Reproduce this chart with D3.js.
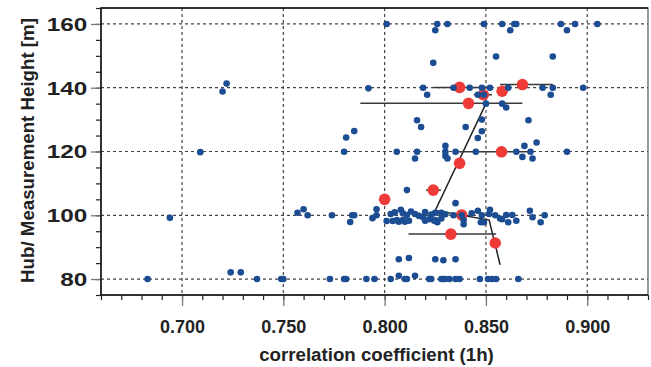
<!DOCTYPE html>
<html>
<head>
<meta charset="utf-8">
<script src="https://cdn.jsdelivr.net/npm/d3@7"></script>
<style>
  body { margin: 0; background: #fff; }
  svg { display: block; font-family: "Liberation Sans", Arial, sans-serif; }
</style>
</head>
<body>
<div class="chart"></div>
<script>
// blue dots: correlation coefficient and hub height
var blueCorr = [
  // ~80 m
  0.683, 0.737, 0.749, 0.750, 0.773, 0.780, 0.781, 0.791, 0.795, 0.803, 0.810, 0.811,
  0.822, 0.823, 0.828, 0.829, 0.830, 0.832, 0.835, 0.837, 0.847, 0.851, 0.853, 0.855, 0.866,
  0.807, 0.815, 0.724, 0.729,
  0.807, 0.812, 0.825, 0.829, 0.835,
  // ~100 m
  0.694, 0.757, 0.760, 0.762, 0.774, 0.783, 0.784, 0.785, 0.794, 0.796, 0.796, 0.801,
  0.803, 0.805, 0.806, 0.807, 0.809, 0.808, 0.809, 0.811, 0.815, 0.819, 0.820, 0.820,
  0.822, 0.8245, 0.825, 0.828, 0.825, 0.828, 0.834, 0.838, 0.839, 0.839, 0.843, 0.846,
  0.8475, 0.849, 0.848, 0.852, 0.8516, 0.8546, 0.857, 0.858, 0.861, 0.860, 0.863, 0.865,
  0.8717, 0.873, 0.877, 0.879, 0.804, 0.810, 0.812, 0.817, 0.823, 0.830, 0.826, 0.813,
  0.835, 0.811,
  // ~120 m
  0.709, 0.781, 0.785, 0.780, 0.806, 0.816, 0.818, 0.816, 0.815, 0.830, 0.830, 0.830,
  0.831, 0.835, 0.840, 0.845, 0.846, 0.848, 0.848, 0.865, 0.869, 0.868, 0.871, 0.872,
  0.873, 0.875, 0.890,
  // ~135-140 m
  0.850, 0.858, 0.860,
  0.720, 0.722, 0.792, 0.819, 0.834, 0.842, 0.848, 0.852, 0.861, 0.878, 0.883, 0.898,
  0.821, 0.846, 0.849, 0.882,
  // ~150-160 m
  0.824, 0.855, 0.883,
  0.825, 0.862, 0.890,
  0.801, 0.826, 0.831, 0.849, 0.858, 0.864, 0.865, 0.887, 0.894, 0.905
];
var blueHeight = [
  80, 80, 80, 80, 80, 80, 80, 80, 80, 80, 80, 80,
  80, 80, 80, 80, 80, 80, 80, 80, 80, 80, 80, 80, 80,
  81, 81, 82.1, 82.1,
  86.2, 86.6, 86.2, 85.9, 86.2,
  99.2, 100.8, 101.9, 100, 100, 97.9, 100, 100, 99.1, 101.9, 100, 98.2,
  100.4, 100.9, 98.5, 98, 98.5, 101.7, 100.6, 100.1, 100.4, 99.4, 101, 98.3,
  98.75, 98.3, 98.5, 99, 100.8, 100.8, 100, 100, 98.5, 97.2, 100.6, 101.4,
  97.8, 97.8, 100, 101.7, 100.4, 100, 99, 98.75, 97.8, 100.1, 100.1, 98.3,
  101.4, 99.4, 97.8, 100, 98.2, 98.0, 98.3, 99.8, 100.2, 100.3, 97.8, 101.2,
  103.8, 107.9,
  119.8, 124.4, 126.4, 119.9, 119.9, 129.8, 127.7, 119.9, 117.8, 121.75, 119.9, 118.6,
  117.8, 119.9, 127.7, 119.9, 124.25, 126.35, 130, 119.9, 121.75, 118.3, 129.8, 119.9,
  117.8, 122.8, 119.9,
  135, 135, 133.8,
  138.8, 141.3, 139.8, 140, 140, 140, 140, 140, 140, 140, 140, 140,
  137.8, 137.8, 137.8, 137.8,
  147.8, 149.8, 149.8,
  158, 158, 158,
  160, 160, 160, 160, 160, 160, 160, 160, 160, 160
];

// red dots with their horizontal bars
var redCorr   = [0.837, 0.868, 0.8487, 0.858, 0.8414, 0.837, 0.8577, 0.824, 0.800, 0.838, 0.8327, 0.8546];
var redHeight = [140.1, 141, 137.8, 138.9, 135.1, 116.3, 119.9, 107.9, 105, 100.1, 94.1, 91.3];
var redLo     = [0.824, 0.857, 0.844, 0.858, 0.788, 0.837, 0.834, 0.8204, 0.800, 0.838, 0.8118, 0.8546];
var redHi     = [0.852, 0.883, 0.853, 0.858, 0.868, 0.837, 0.871, 0.8278, 0.800, 0.838, 0.855, 0.8546];

// black trend line
var lineCorr   = [0.850, 0.825, 0.8516, 0.857];
var lineHeight = [135, 101.5, 98.5, 84.5];

var xTicks = [0.70, 0.75, 0.80, 0.85, 0.90];
var yTicks = [80, 100, 120, 140, 160];
var xMinor = d3.range(66, 94).map(function(d){ return d / 100; });
var yMinor = d3.range(75, 166, 5);

var W = 651, H = 367;
var pLeft = 101, pRight = 648, pTop = 8, pBottom = 295;

var x = d3.scaleLinear().domain([0.66, 0.93]).range([pLeft, pRight]);
var y = d3.scaleLinear().domain([75, 165]).range([pBottom, pTop]);

var svg = d3.select(".chart").append("svg")
    .attr("width", W)
    .attr("height", H);

// grid
var grid = svg.append("g").attr("stroke", "#444").attr("stroke-width", 1.2)
    .attr("stroke-dasharray", "3,3");
grid.selectAll(".gx").data(xTicks).enter().append("line")
    .attr("x1", function(d){ return x(d); })
    .attr("x2", function(d){ return x(d); })
    .attr("y1", pTop).attr("y2", pBottom);
grid.selectAll(".gy").data(yTicks).enter().append("line")
    .attr("y1", function(d){ return y(d); })
    .attr("y2", function(d){ return y(d); })
    .attr("x1", pLeft).attr("x2", pRight);

// minor ticks
svg.append("g")
    .attr("transform", "translate(0," + pBottom + ")")
    .call(d3.axisBottom(x).tickValues(xMinor).tickSize(5).tickFormat(""))
    .call(function(g){ g.select(".domain").remove(); })
    .selectAll("line").attr("stroke", "#222").attr("stroke-width", 1.2);
svg.append("g")
    .attr("transform", "translate(" + pLeft + ",0)")
    .call(d3.axisLeft(y).tickValues(yMinor).tickSize(5).tickFormat(""))
    .call(function(g){ g.select(".domain").remove(); })
    .selectAll("line").attr("stroke", "#222").attr("stroke-width", 1.2);

// major ticks + labels
var xAxis = svg.append("g")
    .attr("transform", "translate(0," + pBottom + ")")
    .call(d3.axisBottom(x).tickValues(xTicks).tickSize(11).tickFormat(d3.format(".3f")));
xAxis.select(".domain").remove();
xAxis.selectAll("line").attr("stroke", "#777").attr("stroke-width", 1.3);
xAxis.selectAll("text")
    .attr("y", 38).attr("dy", 0)
    .attr("fill", "#222")
    .style("font-size", "18px").style("font-weight", "bold")
    .style("font-family", "'Liberation Sans', Arial, sans-serif");

var yAxis = svg.append("g")
    .attr("transform", "translate(" + pLeft + ",0)")
    .call(d3.axisLeft(y).tickValues(yTicks).tickSize(10));
yAxis.select(".domain").remove();
yAxis.selectAll("line").attr("stroke", "#777").attr("stroke-width", 1.3);
yAxis.selectAll("text")
    .attr("x", -10.2).attr("dy", "0.35em")
    .attr("transform", "scale(1.35,1)")
    .attr("fill", "#222")
    .style("font-size", "18px").style("font-weight", "bold")
    .style("font-family", "'Liberation Sans', Arial, sans-serif");

// trend line and bars
svg.append("path")
    .datum(d3.range(lineCorr.length))
    .attr("fill", "none")
    .attr("stroke", "#222")
    .attr("stroke-width", 1.5)
    .attr("d", d3.line()
        .x(function(i){ return x(lineCorr[i]); })
        .y(function(i){ return y(lineHeight[i]); }));

svg.append("g").selectAll("line")
    .data(d3.range(redCorr.length).filter(function(i){ return redHi[i] > redLo[i]; }))
    .enter().append("line")
    .attr("x1", function(i){ return x(redLo[i]); })
    .attr("x2", function(i){ return x(redHi[i]); })
    .attr("y1", function(i){ return y(redHeight[i]); })
    .attr("y2", function(i){ return y(redHeight[i]); })
    .attr("stroke", "#3a3a3a")
    .attr("stroke-width", 1.5);

// red points (under the blue ones, as in the source)
svg.append("g").selectAll("circle")
    .data(d3.range(redCorr.length))
    .enter().append("circle")
    .attr("cx", function(i){ return x(redCorr[i]); })
    .attr("cy", function(i){ return y(redHeight[i]); })
    .attr("r", 5.8)
    .attr("fill", "#ee3b38");

// blue points
svg.append("g").selectAll("circle")
    .data(d3.range(blueCorr.length))
    .enter().append("circle")
    .attr("cx", function(i){ return x(blueCorr[i]); })
    .attr("cy", function(i){ return y(blueHeight[i]); })
    .attr("r", 3.3)
    .attr("fill", "#1c4d92");

// frame
svg.append("rect")
    .attr("x", pLeft).attr("y", pTop)
    .attr("width", pRight - pLeft).attr("height", pBottom - pTop)
    .attr("fill", "none").attr("stroke", "#555").attr("stroke-width", 1.2);
svg.append("path")
    .attr("d", "M" + pRight + "," + pTop + "H" + pLeft + "V" + pBottom + "H" + pRight)
    .attr("fill", "none").attr("stroke", "#111").attr("stroke-width", 1.5);

// titles
svg.append("text")
    .attr("x", (pLeft + pRight) / 2 + 2)
    .attr("y", 361)
    .attr("text-anchor", "middle")
    .attr("fill", "#222")
    .style("font-size", "18.7px").style("font-weight", "bold")
    .text("correlation coefficient (1h)");

svg.append("text")
    .attr("transform", "translate(33.5," + ((pTop + pBottom) / 2 - 1) + ") rotate(-90)")
    .attr("text-anchor", "middle")
    .attr("fill", "#222")
    .style("font-size", "18.7px").style("font-weight", "bold")
    .text("Hub/ Measurement Height [m]");
</script>
</body>
</html>
